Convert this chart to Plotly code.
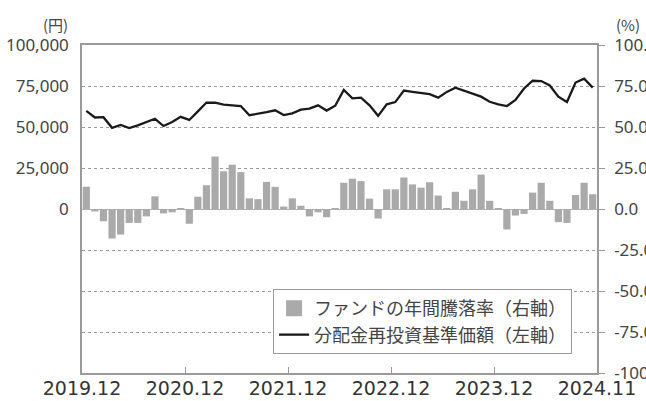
import plotly.graph_objects as go

# ---- data ----
start_year, start_month, n_months = 2019, 12, 60
months = []
y, m = start_year, start_month
for _ in range(n_months):
    months.append(f"{y}.{m:02d}")
    m += 1
    if m > 12:
        m = 1
        y += 1

x_tick_labels = ["2019.12", "2020.12", "2021.12", "2022.12", "2023.12", "2024.11"]

annual_return_pct = [
    13.6, -1.5, -7.5, -18, -15.6, -8.5, -8.5, -4.5, 7.7, -2.7,
    -2, 0.3, -9, 7.5, 14.5, 32, 23, 27, 22.5, 6.5,
    6, 16.5, 13.5, 1.5, 6.5, 2, -4.5, -2, -5, 0.3,
    16, 18.5, 17, 6.3, -5.8, 12, 12, 19.2, 15, 13,
    16.3, 8.2, 0.3, 10.5, 5, 12, 21, 5, 0.3, -12.5,
    -4, -3, 10, 16, 5, -8, -8.5, 8.5, 16, 9,
]

nav_reinvested_yen = [
    59800, 55800, 56000, 49500, 51200, 49400, 51000, 53000, 55000, 50600,
    53000, 56200, 54300, 59500, 64900, 64800, 63600, 63200, 62800, 57200,
    58000, 59000, 60200, 57300, 58300, 60600, 61200, 63200, 60000, 63000,
    72600, 67500, 67900, 63200, 56800, 63800, 65200, 72200, 71400, 70800,
    70000, 67900, 71400, 74000, 72000, 70400, 68500, 65400, 63800, 62800,
    66500, 73500, 78200, 78000, 75300, 68500, 65200, 77100, 79500, 74000,
]

left_ticks = [0, 25000, 50000, 75000, 100000]
left_tick_text = ["0", "25,000", "50,000", "75,000", "100,000"]
right_ticks = [100, 75, 50, 25, 0, -25, -50, -75, -100]
right_tick_text = ["100.0", "75.0", "50.0", "25.0", "0.0", "-25.0", "-50.0", "-75.0", "-100.0"]

legend_bar = "ファンドの年間騰落率（右軸）"
legend_line = "分配金再投資基準価額（左軸）"

# ---- figure ----
idx = list(range(len(months)))
tick_pos = [months.index(t) - 0.5 if t != months[-1] else len(months) - 0.5 for t in x_tick_labels]

BAR_COLOR = "#aaaaaa"
AXIS_COLOR = "#9a9a9a"
TEXT_COLOR = "#444444"

fig = go.Figure()

fig.add_trace(go.Bar(
    x=idx, y=annual_return_pct, yaxis="y2", name=legend_bar,
    marker=dict(color=BAR_COLOR, line=dict(width=0)),
    showlegend=False, hoverinfo="skip",
))
# legend entry for bars (bigger swatch)
fig.add_trace(go.Scatter(
    x=[None], y=[None], yaxis="y2", mode="markers", name=legend_bar,
    marker=dict(symbol="square", size=18, color=BAR_COLOR),
))
fig.add_trace(go.Scatter(
    x=idx, y=nav_reinvested_yen, yaxis="y", mode="lines", name=legend_line,
    line=dict(color="#1a1a1a", width=2.3),
))

fig.update_layout(
    width=646, height=401,
    margin=dict(l=82, r=49, t=45, b=28, autoexpand=False),
    paper_bgcolor="white", plot_bgcolor="white",
    bargap=0.16,
    showlegend=True,
    legend=dict(
        x=0.371, y=0.256, xanchor="left", yanchor="top",
        bgcolor="white", bordercolor=AXIS_COLOR, borderwidth=1,
        font=dict(family="Noto Sans CJK JP", size=18, color=TEXT_COLOR),
        itemsizing="trace", traceorder="normal", tracegroupgap=0,
    ),
    xaxis=dict(
        range=[-0.5, len(months) - 0.5],
        tickmode="array", tickvals=tick_pos, ticktext=x_tick_labels,
        ticks="inside", ticklen=6, tickcolor=AXIS_COLOR, tickwidth=1,
        showline=True, linecolor=AXIS_COLOR, linewidth=1.5, mirror=True,
        showgrid=False, zeroline=False,
        tickfont=dict(family="DejaVu Sans", size=19, color="#333333"),
        ticklabelstandoff=-3,
        automargin=False,
    ),
    yaxis=dict(
        range=[-100000, 100000],
        tickmode="array", tickvals=left_ticks, ticktext=left_tick_text,
        showgrid=False, zeroline=False,
        showline=True, linecolor=AXIS_COLOR, linewidth=1.5,
        ticks="", ticklabelstandoff=8,
        tickfont=dict(family="Noto Sans", size=17, color=TEXT_COLOR),
        automargin=False,
    ),
    yaxis2=dict(
        range=[-100, 100], overlaying="y", side="right",
        tickmode="array", tickvals=right_ticks, ticktext=right_tick_text,
        showgrid=True, gridcolor="#9a9a9a", griddash="dot", gridwidth=1.3,
        zeroline=True, zerolinecolor="#b0b0b0", zerolinewidth=1,
        showline=True, linecolor=AXIS_COLOR, linewidth=1.5,
        ticks="outside", ticklen=6, tickcolor=AXIS_COLOR, tickwidth=1,
        ticklabelstandoff=6,
        tickfont=dict(family="Noto Sans", size=17, color=TEXT_COLOR),
        automargin=False,
    ),
    annotations=[
        dict(text="(円)", xref="paper", yref="paper", x=-0.052, y=1.0, yshift=21,
             xanchor="center", yanchor="middle", showarrow=False,
             font=dict(family="Noto Sans CJK JP", size=15, color=TEXT_COLOR)),
        dict(text="(%)", xref="paper", yref="paper", x=1.0, xshift=17, y=1.0, yshift=21,
             xanchor="left", yanchor="middle", showarrow=False,
             font=dict(family="Noto Sans CJK JP", size=15, color=TEXT_COLOR)),
    ],
)

fig.write_html(
    "out.html",
    config={"displayModeBar": False},
    post_script="document.body.style.margin='0';document.body.style.overflow='hidden';",
)
